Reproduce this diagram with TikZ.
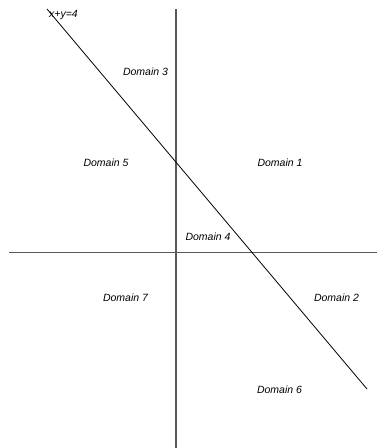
\documentclass[tikz,border=0pt]{standalone}
\usepackage{fontspec}
\newfontfamily\domfont{Liberation Sans}
\usetikzlibrary{positioning}

\begin{document}
\begin{tikzpicture}[
  x=1pt, y=-1pt,
  region/.style={font=\domfont\itshape\fontsize{10.5}{12}\selectfont, inner sep=0pt},
  axis/.style={draw=black!65, line width=1.3pt},
  bound/.style={draw=black, line width=0.8pt},
]
  \useasboundingbox (0,0) rectangle (377,448);

  % axes
  \coordinate (ytop) at (176,9);
  \coordinate (ybot) at (176,448);
  \coordinate (xleft) at (9,252.5);
  \coordinate (xright) at (377,252.5);
  \draw[axis] (ytop) -- (ybot);
  \draw[axis] (xleft) -- (xright);

  % the line x+y=4
  \coordinate (ltop) at (47,9);
  \coordinate (lbot) at (367,389);
  \draw[bound] (ltop) -- (lbot);
  \node[region, anchor=west] (eq) at (49,15) {x+y=4};

  % domains
  \node[region] (d3) at (145.5,72) {Domain 3};
  \node[region] (d5) at (106,163) {Domain 5};
  \node[region] (d1) at (280,163) {Domain 1};
  \node[region] (d4) at (208,237) {Domain 4};
  \node[region] (d7) at (125.5,298) {Domain 7};
  \node[region] (d2) at (336.5,298) {Domain 2};
  \node[region] (d6) at (279.5,390) {Domain 6};
\end{tikzpicture}
\end{document}
